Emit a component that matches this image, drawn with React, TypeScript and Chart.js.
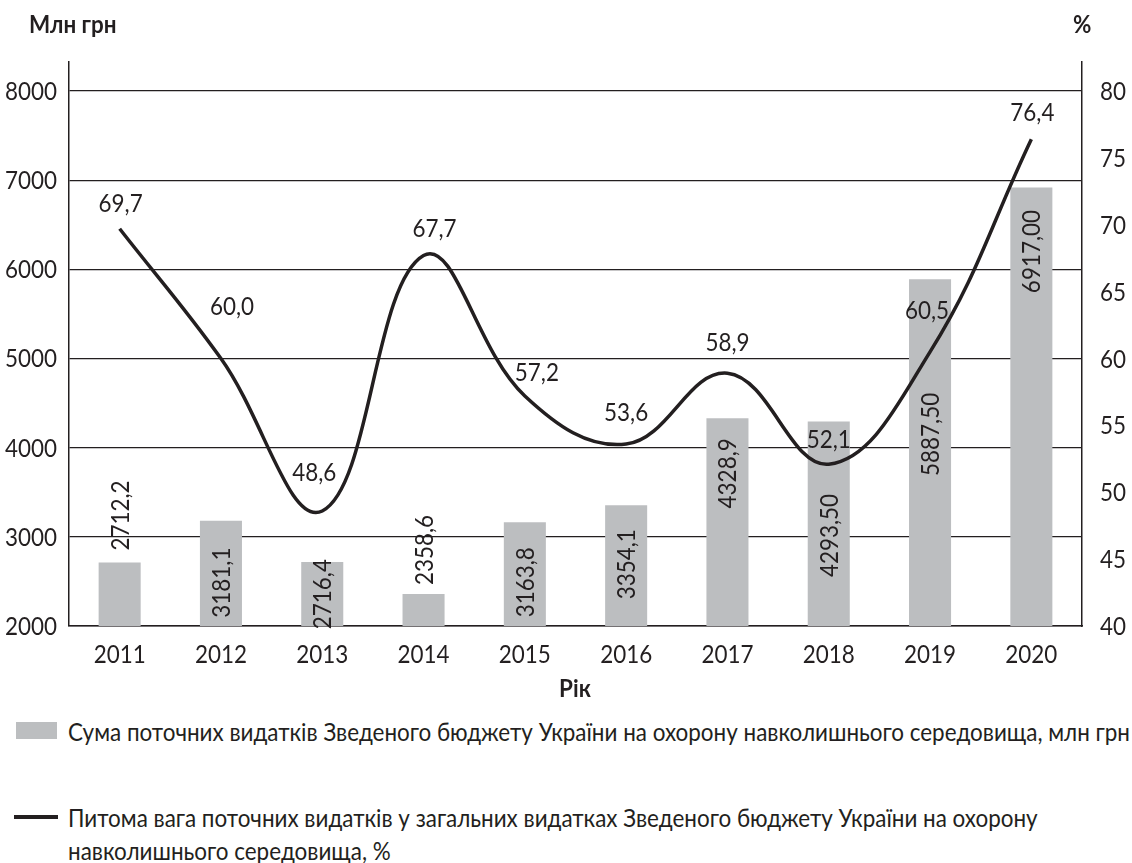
import React, { useEffect, useRef } from "react";
import { Chart, registerables } from "chart.js";

Chart.register(...registerables);

const years = ["2011", "2012", "2013", "2014", "2015", "2016", "2017", "2018", "2019", "2020"];
const spending = [2712.2, 3181.1, 2716.4, 2358.6, 3163.8, 3354.1, 4328.9, 4293.5, 5887.5, 6917.0];
const spendingLabels = ["2712,2", "3181,1", "2716,4", "2358,6", "3163,8", "3354,1", "4328,9", "4293,50", "5887,50", "6917,00"];
const share = [69.7, 60.0, 48.6, 67.7, 57.2, 53.6, 58.9, 52.1, 60.5, 76.4];
const shareLabels = ["69,7", "60,0", "48,6", "67,7", "57,2", "53,6", "58,9", "52,1", "60,5", "76,4"];
const leftTicks = [2000, 3000, 4000, 5000, 6000, 7000, 8000];
const rightTicks = [40, 45, 50, 55, 60, 65, 70, 75, 80];

const barLegend = "Сума поточних видатків Зведеного бюджету України на охорону навколишнього середовища, млн грн";
const lineLegend1 = "Питома вага поточних видатків у загальних видатках Зведеного бюджету України на охорону";
const lineLegend2 = "навколишнього середовища, %";
const leftTitle = "Млн грн";
const rightTitle = "%";
const xTitle = "Рік";

// label nudges (pixels) relative to the library-computed mark positions
const barLabelShift = [-47, 62, 32, -44, 60, 59, 55, 114, 155, 64];
const lineLabelShift: [number, number][] = [
  [1, -26], [11, -53], [-8, -39], [11, -28], [12, -24],
  [0, -32], [0, -31], [0, -25], [-3, -42], [1, -27],
];

const FONT = "Lato, 'Open Sans', sans-serif";
const FS = 25;
const TEXT = "#231f20";
const BAR = "#bcbec0";

// horizontal condensing factor so the text matches the narrow face of the original
function computeSX(): number {
  try {
    const c = document.createElement("canvas").getContext("2d");
    if (!c) return 0.85;
    c.font = `${FS}px ${FONT}`;
    const w = c.measureText(barLegend).width;
    if (!w) return 0.85;
    return Math.min(1, 1062 / w);
  } catch (e) {
    return 0.85;
  }
}
const SX = computeSX();

function drawText(ctx: CanvasRenderingContext2D, text: string, x: number, y: number, align: CanvasTextAlign) {
  ctx.save();
  ctx.translate(x, y);
  ctx.scale(SX, 1);
  ctx.textAlign = align;
  ctx.textBaseline = "alphabetic";
  ctx.fillText(text, 0, 0);
  ctx.restore();
}

const textPlugin = {
  id: "texts",
  afterDraw(chart: any) {
    const ctx: CanvasRenderingContext2D = chart.ctx;
    ctx.save();
    ctx.fillStyle = TEXT;
    ctx.font = `${FS}px ${FONT}`;
    const { x, y, y1 } = chart.scales;
    const area = chart.chartArea;
    // axis tick labels
    x.ticks.forEach((_t: any, i: number) => {
      drawText(ctx, years[i], x.getPixelForTick(i), area.bottom + 37, "center");
    });
    leftTicks.forEach((v) => drawText(ctx, String(v), area.left - 12, y.getPixelForValue(v) + 9, "right"));
    rightTicks.forEach((v) => drawText(ctx, String(v), area.right + 18, y1.getPixelForValue(v) + 9, "left"));
    // bar value labels (vertical)
    const barMeta = chart.getDatasetMeta(1);
    barMeta.data.forEach((el: any, i: number) => {
      ctx.save();
      ctx.translate(el.x, el.y + barLabelShift[i]);
      ctx.rotate(-Math.PI / 2);
      ctx.scale(SX, 1);
      ctx.textAlign = "center";
      ctx.textBaseline = "alphabetic";
      ctx.fillText(spendingLabels[i], 0, 9);
      ctx.restore();
    });
    // line value labels
    const lineMeta = chart.getDatasetMeta(0);
    lineMeta.data.forEach((el: any, i: number) => {
      const [dx, dy] = lineLabelShift[i];
      drawText(ctx, shareLabels[i], el.x + dx, el.y + dy + 9, "center");
    });
    ctx.restore();
  },
};

export default function App() {
  const ref = useRef<HTMLCanvasElement | null>(null);
  useEffect(() => {
    document.body.style.margin = "0";
    if (!ref.current) return;
    const chart = new Chart(ref.current, {
      type: "bar",
      data: {
        labels: years,
        datasets: [
          {
            type: "line",
            label: lineLegend1 + " " + lineLegend2,
            data: share,
            yAxisID: "y1",
            borderColor: TEXT,
            borderWidth: 3.5,
            pointRadius: 0,
            tension: 0.4,
            fill: false,
            order: 0,
          } as any,
          {
            type: "bar",
            label: barLegend,
            data: spending,
            yAxisID: "y",
            backgroundColor: BAR,
            barPercentage: 0.415,
            categoryPercentage: 1,
            order: 1,
          },
        ],
      },
      options: {
        responsive: false,
        maintainAspectRatio: false,
        animation: false,
        layout: { padding: { top: 62, left: 0, right: 0, bottom: 0 } },
        plugins: { legend: { display: false }, tooltip: { enabled: false } },
        scales: {
          x: {
            offset: true,
            grid: { display: false },
            border: { display: true, color: TEXT, width: 1.5 },
            ticks: { display: false },
            afterFit: (s: any) => { s.height = 74; },
          },
          y: {
            position: "left",
            min: 2000,
            max: 8325,
            grid: { color: TEXT, lineWidth: 1.2, drawTicks: false },
            border: { display: true, color: TEXT, width: 1.5 },
            ticks: { display: false },
            afterBuildTicks: (s: any) => { s.ticks = leftTicks.map((v) => ({ value: v })); },
            afterFit: (s: any) => { s.width = 69; },
          },
          y1: {
            position: "right",
            min: 40,
            max: 82.17,
            grid: { display: false, drawTicks: false },
            border: { display: true, color: TEXT, width: 1.5 },
            ticks: { display: false },
            afterBuildTicks: (s: any) => { s.ticks = rightTicks.map((v) => ({ value: v })); },
            afterFit: (s: any) => { s.width = 50; },
          },
        },
      },
      plugins: [textPlugin],
    });
    return () => chart.destroy();
  }, []);

  const base: React.CSSProperties = {
    position: "absolute",
    fontFamily: FONT,
    color: TEXT,
    fontSize: FS,
    whiteSpace: "nowrap",
    transform: `scaleX(${SX})`,
    transformOrigin: "left center",
  };

  return (
    <div style={{ position: "absolute", left: 0, top: 0, width: 1132, height: 863, background: "#fff", overflow: "hidden" }}>
      <canvas ref={ref} width={1132} height={700} style={{ position: "absolute", left: 0, top: 0 }} />
      <div style={{ ...base, fontWeight: "bold", left: 29, top: 6, lineHeight: "34px" }}>{leftTitle}</div>
      <div style={{ ...base, fontWeight: "bold", left: 1073, top: 6, lineHeight: "34px" }}>{rightTitle}</div>
      <div style={{ ...base, fontWeight: "bold", left: 475, width: 200, textAlign: "center", transformOrigin: "center center", top: 670, lineHeight: "34px" }}>{xTitle}</div>
      <div style={{ position: "absolute", left: 16, top: 722, width: 41, height: 17, background: BAR }} />
      <div style={{ ...base, left: 68, top: 714, lineHeight: "35px" }}>{barLegend}</div>
      <div style={{ position: "absolute", left: 14, top: 815, width: 44, height: 3.5, background: TEXT }} />
      <div style={{ ...base, left: 68, top: 801, lineHeight: "33px" }}>
        {lineLegend1}
        <br />
        {lineLegend2}
      </div>
    </div>
  );
}
